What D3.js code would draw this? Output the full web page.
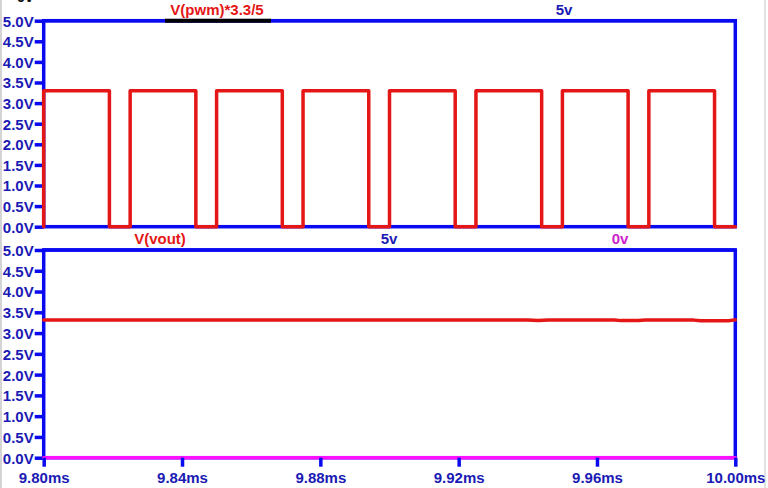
<!DOCTYPE html>
<html><head><meta charset="utf-8">
<script src="https://cdn.jsdelivr.net/npm/d3@7"></script>
<style>
html,body{margin:0;padding:0;background:#fff;}
svg{display:block;}
text{font-family:"Liberation Sans",Arial,sans-serif;font-weight:bold;font-size:15px;}
</style></head>
<body>
<svg id="chart" width="768" height="488"></svg>
<script>
// ---- data ----
const timeTicks = [9.80, 9.84, 9.88, 9.92, 9.96, 10.00];
const voltTicks = [0, 0.5, 1.0, 1.5, 2.0, 2.5, 3.0, 3.5, 4.0, 4.5, 5.0];
const pwmTimes = [9.800, 9.800, 9.819, 9.819, 9.825, 9.825, 9.844, 9.844, 9.850, 9.850,
                  9.869, 9.869, 9.875, 9.875, 9.894, 9.894, 9.900, 9.900, 9.919, 9.919,
                  9.925, 9.925, 9.944, 9.944, 9.950, 9.950, 9.969, 9.969, 9.975, 9.975,
                  9.994, 9.994, 10.000];
const pwmValues = [0, 3.3, 3.3, 0, 0, 3.3, 3.3, 0, 0, 3.3,
                   3.3, 0, 0, 3.3, 3.3, 0, 0, 3.3, 3.3, 0,
                   0, 3.3, 3.3, 0, 0, 3.3, 3.3, 0, 0, 3.3,
                   3.3, 0, 0];
const voutTimes = [9.800, 9.850, 9.900, 9.940, 9.943, 9.946, 9.965, 9.967, 9.972, 9.974,
                   9.988, 9.990, 9.998, 10.000];
const voutValues = [3.315, 3.315, 3.315, 3.315, 3.300, 3.315, 3.315, 3.300, 3.300, 3.312,
                    3.312, 3.295, 3.295, 3.318];
const constTimes = [9.80, 10.00];
const fiveV = [5, 5];
const zeroV = [0, 0];

// ---- layout ----
const svg = d3.select("#chart");
const blue = "#0a0af0", textBlue = "#1a1ab4", red = "#e51616", magenta = "#ff10ff";
const x = d3.scaleLinear().domain([9.80, 10.00]).range([43.7, 735.3]);
const yTop = d3.scaleLinear().domain([0, 5]).range([226.7, 20.7]);
const yBot = d3.scaleLinear().domain([0, 5]).range([457.7, 250]);

// side gray borders
svg.append("line").attr("x1", 1).attr("x2", 1).attr("y1", 0).attr("y2", 488)
  .attr("stroke", "#d4d4d4").attr("stroke-width", 2);
svg.append("line").attr("x1", 765).attr("x2", 765).attr("y1", 0).attr("y2", 488)
  .attr("stroke", "#e2e2e2").attr("stroke-width", 2);

function panel(y) {
  const g = svg.append("g");
  // y axis
  const ax = g.append("g").attr("transform", `translate(${x.range()[0]},0)`)
    .call(d3.axisLeft(y).tickValues(voltTicks).tickFormat(d => d3.format(".1f")(d) + "V")
      .tickSize(9).tickPadding(1));
  ax.select(".domain").remove();
  ax.selectAll(".tick line").attr("stroke", blue).attr("stroke-width", 3.5);
  ax.selectAll(".tick text").attr("fill", textBlue).attr("font-size", 15)
    .attr("font-family", "Liberation Sans, Arial, sans-serif").attr("font-weight", "bold")
    .attr("dy", "0.36em");
  // frame
  g.append("rect")
    .attr("x", x.range()[0]).attr("y", y.range()[1])
    .attr("width", x.range()[1] - x.range()[0]).attr("height", y.range()[0] - y.range()[1])
    .attr("fill", "none").attr("stroke", blue).attr("stroke-width", 3.5);
  return g;
}

const gTop = panel(yTop);
const gBot = panel(yBot);

// bottom x axis
const xa = svg.append("g").attr("transform", `translate(0,${yBot.range()[0]})`)
  .call(d3.axisBottom(x).tickValues(timeTicks).tickFormat(d => d3.format(".2f")(d) + "ms")
    .tickSize(9).tickPadding(6));
xa.select(".domain").remove();
xa.selectAll(".tick line").attr("stroke", blue).attr("stroke-width", 3.5);
xa.selectAll(".tick text").attr("fill", textBlue).attr("font-size", 15)
  .attr("font-family", "Liberation Sans, Arial, sans-serif").attr("font-weight", "bold");

function trace(g, y, ts, vs, color) {
  const line = d3.line().x(d => x(d[0])).y(d => y(d[1]));
  g.append("path").datum(ts.map((t, i) => [t, vs[i]]))
    .attr("d", line).attr("fill", "none").attr("stroke", color)
    .attr("stroke-width", 3.5).attr("stroke-linejoin", "round").attr("stroke-linecap", "round");
}

// top panel traces
trace(gTop, yTop, constTimes, fiveV, blue);
trace(gTop, yTop, pwmTimes, pwmValues, red);
// bottom panel traces
trace(gBot, yBot, constTimes, fiveV, blue);
trace(gBot, yBot, voutTimes, voutValues, red);
trace(gBot, yBot, constTimes, zeroV, magenta);

// legend labels
svg.append("line").attr("x1", 165).attr("x2", 271).attr("y1", 20.7).attr("y2", 20.7)
  .attr("stroke", "#000").attr("stroke-width", 4);
function label(txt, cx, by, color) {
  svg.append("text").attr("x", cx).attr("y", by).attr("text-anchor", "middle")
    .attr("fill", color).text(txt);
}
label("0v", 25, 2, "#111");
label("V(pwm)*3.3/5", 217, 15, red);
label("5v", 564, 15, textBlue);
label("V(vout)", 160, 244, red);
label("5v", 389, 244, textBlue);
label("0v", 620, 244, "#cc22cc");
</script>
</body></html>
